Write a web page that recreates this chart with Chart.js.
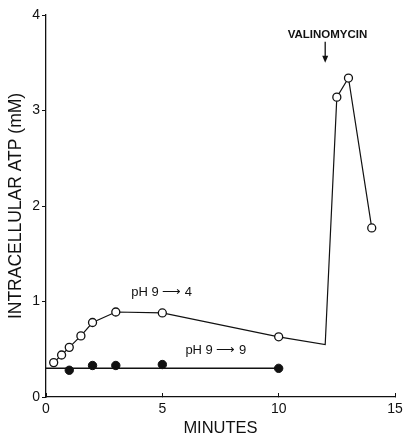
<!DOCTYPE html>
<html>
<head>
<meta charset="utf-8">
<script src="https://cdn.jsdelivr.net/npm/chart.js@4"></script>
<style>
  html, body { margin: 0; padding: 0; background: #fff; }
  #wrap { width: 404px; height: 438px; position: relative; }
</style>
</head>
<body>
<div id="wrap"><canvas id="atpChart"></canvas></div>
<script>
// Data (minutes, mM)
const acidMinutes = [0.33, 0.67, 1, 1.5, 2, 3, 5, 10, 12, 12.5, 13, 14];
const acidAtp     = [0.36, 0.44, 0.52, 0.64, 0.78, 0.89, 0.88, 0.63, 0.55, 3.14, 3.34, 1.77];
const controlMinutes = [1, 2, 3, 5, 10];
const controlAtp     = [0.28, 0.33, 0.33, 0.34, 0.30];
const controlLineMinutes = [0, 10];
const controlLineAtp     = [0.30, 0.30];
const xTicks = [0, 5, 10, 15];
const yTicks = [0, 1, 2, 3, 4];

const toPoints = (xs, ys) => xs.map((x, i) => ({ x: x, y: ys[i] }));
const ink = '#111';
const fontFamily = '"Liberation Sans", Arial, sans-serif';

// Text labels and valinomycin arrow, placed in data units
const annotations = {
    id: 'annotations',
    afterDatasetsDraw(chart) {
        const { ctx, scales: { x, y } } = chart;
        ctx.save();
        ctx.fillStyle = ink;
        ctx.strokeStyle = ink;
        ctx.textAlign = 'center';
        ctx.textBaseline = 'middle';

        ctx.font = '13px ' + fontFamily;
        ctx.fillText('pH 9 \u27F6 4', x.getPixelForValue(4.97), y.getPixelForValue(1.1));
        ctx.fillText('pH 9 \u27F6 9', x.getPixelForValue(7.3), y.getPixelForValue(0.49));

        ctx.font = 'bold 11.5px ' + fontFamily;
        ctx.fillText('VALINOMYCIN', x.getPixelForValue(12.1), y.getPixelForValue(3.79));

        // arrow
        const ax = x.getPixelForValue(12);
        const top = y.getPixelForValue(3.72);
        const tip = y.getPixelForValue(3.5);
        ctx.lineWidth = 1.3;
        ctx.beginPath();
        ctx.moveTo(ax, top);
        ctx.lineTo(ax, tip - 4);
        ctx.stroke();
        ctx.beginPath();
        ctx.moveTo(ax - 3, tip - 7);
        ctx.lineTo(ax + 3, tip - 7);
        ctx.lineTo(ax, tip);
        ctx.closePath();
        ctx.fill();
        ctx.restore();
    }
};

new Chart(document.getElementById('atpChart'), {
    type: 'scatter',
    data: {
        datasets: [
            {
                label: 'pH 9 -> 9 line',
                data: toPoints(controlLineMinutes, controlLineAtp),
                showLine: true,
                borderColor: ink,
                borderWidth: 1.5,
                pointRadius: 0
            },
            {
                label: 'pH 9 -> 9',
                data: toPoints(controlMinutes, controlAtp),
                showLine: false,
                backgroundColor: ink,
                borderColor: ink,
                pointRadius: 4.2,
                borderWidth: 1
            },
            {
                label: 'pH 9 -> 4',
                data: toPoints(acidMinutes, acidAtp),
                showLine: true,
                borderColor: ink,
                borderWidth: 1.2,
                backgroundColor: '#fff',
                pointBackgroundColor: '#fff',
                pointBorderColor: ink,
                pointBorderWidth: 1.3,
                pointRadius: acidMinutes.map(m => (m === 12 ? 0 : 4))
            }
        ]
    },
    options: {
        responsive: true,
        maintainAspectRatio: false,
        animation: false,
        layout: { padding: { top: 15, right: 9, left: 0, bottom: 0 } },
        plugins: {
            legend: { display: false },
            tooltip: { enabled: false }
        },
        scales: {
            x: {
                type: 'linear',
                min: 0,
                max: 15,
                afterBuildTicks: axis => { axis.ticks = xTicks.map(v => ({ value: v })); },
                afterFit: axis => {
                    axis.height = 41;
                    axis.paddingLeft = 0;
                    axis.paddingRight = 0;
                },
                grid: {
                    display: true,
                    drawOnChartArea: false,
                    drawTicks: true,
                    tickLength: -4,
                    color: ink
                },
                border: { display: true, color: ink, width: 1.3 },
                ticks: {
                    color: ink,
                    padding: 8,
                    maxRotation: 0,
                    font: { family: fontFamily, size: 14 }
                },
                title: {
                    display: true,
                    text: 'MINUTES',
                    color: ink,
                    padding: { top: 0, bottom: 0 },
                    font: { family: fontFamily, size: 16.5 }
                }
            },
            y: {
                type: 'linear',
                min: 0,
                max: 4,
                afterBuildTicks: axis => { axis.ticks = yTicks.map(v => ({ value: v })); },
                afterFit: axis => { axis.width = 46; },
                grid: {
                    display: true,
                    drawOnChartArea: false,
                    drawTicks: true,
                    tickLength: 4,
                    color: ink
                },
                border: { display: true, color: ink, width: 1.3 },
                ticks: {
                    color: ink,
                    padding: 2,
                    font: { family: fontFamily, size: 14 }
                },
                title: {
                    display: true,
                    text: 'INTRACELLULAR ATP (mM)',
                    color: ink,
                    padding: { top: 6, bottom: 0 },
                    font: { family: fontFamily, size: 17.5 }
                }
            }
        }
    },
    plugins: [annotations]
});
</script>
</body>
</html>
